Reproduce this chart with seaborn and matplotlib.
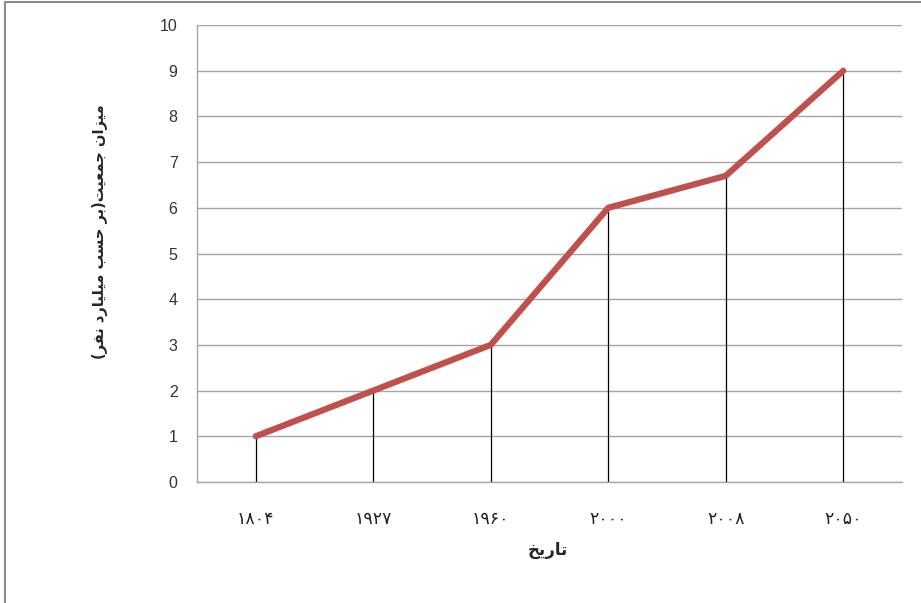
import matplotlib
matplotlib.use('Agg')
import matplotlib.pyplot as plt
from matplotlib.lines import Line2D
import numpy as np
import pandas as pd
import seaborn as sns

# years (Persian digits) and population in billions
years      = ['۱۸۰۴', '۱۹۲۷', '۱۹۶۰', '۲۰۰۰', '۲۰۰۸', '۲۰۵۰']
population = [1, 2, 3, 6, 6.7, 9]
yticks     = list(range(0, 11))

# matplotlib has no Arabic shaping, so the labels are written with
# presentation forms (logical order) and reversed for display
def rtl(s):
    swap = {'(': ')', ')': '('}
    return ''.join(swap.get(c, c) for c in s[::-1])

xlabel = rtl('\uFE97\uFE8E\uFEAD\uFEF3\uFEA6')  # تاریخ
ylabel = rtl('\uFEE3\uFEF4\uFEB0\uFE8D\uFEE5 '          # میزان
             '\uFE9F\uFEE4\uFECC\uFEF4\uFE96'           # جمعیت
             '(\uFE91\uFEAE '                           # (بر
             '\uFEA3\uFEB4\uFE90 '                      # حسب
             '\uFEE3\uFEF4\uFEE0\uFEF4\uFE8E\uFEAD\uFEA9 '  # میلیارد
             '\uFEE7\uFED4\uFEAE)')                     # نفر)

df = pd.DataFrame({'year': years, 'pop': population})

sns.set_style(style='white')
plt.rcParams['font.family'] = ['DejaVu Sans']

fig = plt.figure(figsize=(9.21, 6.03), dpi=100)
ax = fig.add_axes([0.2139, 0.2007, 0.7655, 0.7578])

# drop lines from each point to the axis
xpos = np.arange(len(years))
ax.vlines(xpos, 0, population, color='black', lw=0.9, zorder=2)

sns.lineplot(data=df, x='year', y='pop', ax=ax, color='#C0504D', lw=4.5,
             sort=False, zorder=3)
for l in ax.get_lines():
    l.set_solid_capstyle('round')

ax.set_xlim(-0.5, len(years) - 0.5)
ax.set_ylim(0, 10)
ax.set_yticks(yticks)
ax.set_yticklabels([str(t) for t in yticks], fontfamily='Liberation Sans',
                   fontsize=11.5, color='#333333')
ax.set_xticks(xpos)
ax.set_xticklabels(years, fontsize=12.5, color='#222222')
ax.grid(axis='y', color='#A6A6A6', lw=1.0)
ax.set_axisbelow(True)

for s in ['top', 'right']:
    ax.spines[s].set_visible(False)
for s in ['left', 'bottom']:
    ax.spines[s].set_color('#A6A6A6')
    ax.spines[s].set_linewidth(1.0)

ax.tick_params(axis='y', length=6, color='#A6A6A6', width=1.0, pad=8)
ax.tick_params(axis='x', length=0, pad=20)

ax.set_xlabel(xlabel, fontsize=12, fontweight='bold', va='center')
ax.set_ylabel(ylabel, fontsize=10.5, fontweight='bold', va='center')
ax.xaxis.set_label_coords(0.498, -0.1488)
ax.yaxis.set_label_coords(-0.1376, 0.547)

# outer frame of the original picture
fig.add_artist(Line2D([5 / 921, 1], [1 - 2 / 603, 1 - 2 / 603],
                      transform=fig.transFigure, color='#8C8C8C', lw=1.5))
fig.add_artist(Line2D([5 / 921, 5 / 921], [0, 1 - 2 / 603],
                      transform=fig.transFigure, color='#8C8C8C', lw=1.5))

fig.savefig('out.png', dpi=100)
